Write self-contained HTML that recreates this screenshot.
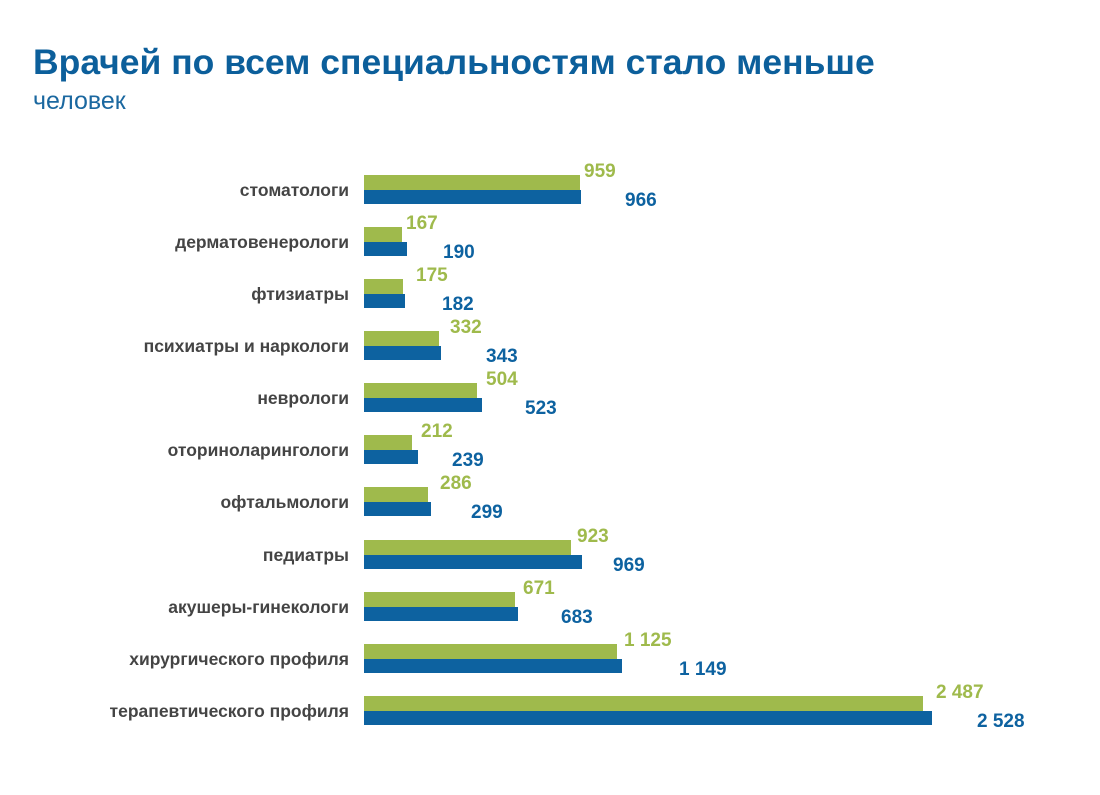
<!DOCTYPE html><html><head><meta charset="utf-8"><style>
body{margin:0;width:1100px;height:795px;background:#fff;position:relative;overflow:hidden;font-family:"Liberation Sans",Arial,sans-serif}
.t{position:absolute;left:33px;top:42px;font-size:35.5px;font-weight:bold;color:#0c5f9b;white-space:nowrap}
.s{position:absolute;left:33px;top:87px;font-size:25px;color:#1b68a0}
.c{position:absolute;right:751px;font-size:17.5px;font-weight:bold;color:#444;white-space:nowrap;line-height:18px}
.g,.b{position:absolute;left:364px;height:14.5px}
.g{background:#9fba4c}.b{background:#0d62a0}
.lg,.lb{position:absolute;font-size:19px;font-weight:bold;line-height:20px;white-space:nowrap;margin-top:2px}
.lg{color:#9fba4c}.lb{color:#0d62a0}
</style></head><body>
<div class="t">Врачей по всем специальностям стало меньше</div>
<div class="s">человек</div>

<div class="c" style="top:181px">стоматологи</div>
<div class="g" style="top:175px;width:216px"></div><div class="b" style="top:189.5px;width:217px"></div>
<div class="lg" style="left:584px;top:160px">959</div><div class="lb" style="left:625px;top:189px">966</div>

<div class="c" style="top:233px">дерматовенерологи</div>
<div class="g" style="top:227px;width:38px"></div><div class="b" style="top:241.5px;width:43px"></div>
<div class="lg" style="left:406px;top:212px">167</div><div class="lb" style="left:443px;top:241px">190</div>

<div class="c" style="top:285px">фтизиатры</div>
<div class="g" style="top:279px;width:39px"></div><div class="b" style="top:293.5px;width:41px"></div>
<div class="lg" style="left:416px;top:264px">175</div><div class="lb" style="left:442px;top:293px">182</div>

<div class="c" style="top:337px">психиатры и наркологи</div>
<div class="g" style="top:331px;width:75px"></div><div class="b" style="top:345.5px;width:77px"></div>
<div class="lg" style="left:450px;top:316px">332</div><div class="lb" style="left:486px;top:345px">343</div>

<div class="c" style="top:389px">неврологи</div>
<div class="g" style="top:383px;width:113px"></div><div class="b" style="top:397.5px;width:118px"></div>
<div class="lg" style="left:486px;top:368px">504</div><div class="lb" style="left:525px;top:397px">523</div>

<div class="c" style="top:441px">оториноларингологи</div>
<div class="g" style="top:435px;width:48px"></div><div class="b" style="top:449.5px;width:54px"></div>
<div class="lg" style="left:421px;top:420px">212</div><div class="lb" style="left:452px;top:449px">239</div>

<div class="c" style="top:493px">офтальмологи</div>
<div class="g" style="top:487px;width:64px"></div><div class="b" style="top:501.5px;width:67px"></div>
<div class="lg" style="left:440px;top:472px">286</div><div class="lb" style="left:471px;top:501px">299</div>

<div class="c" style="top:546px">педиатры</div>
<div class="g" style="top:540px;width:207px"></div><div class="b" style="top:554.5px;width:218px"></div>
<div class="lg" style="left:577px;top:525px">923</div><div class="lb" style="left:613px;top:554px">969</div>

<div class="c" style="top:598px">акушеры-гинекологи</div>
<div class="g" style="top:592px;width:151px"></div><div class="b" style="top:606.5px;width:154px"></div>
<div class="lg" style="left:523px;top:577px">671</div><div class="lb" style="left:561px;top:606px">683</div>

<div class="c" style="top:650px">хирургического профиля</div>
<div class="g" style="top:644px;width:253px"></div><div class="b" style="top:658.5px;width:258px"></div>
<div class="lg" style="left:624px;top:629px">1 125</div><div class="lb" style="left:679px;top:658px">1 149</div>

<div class="c" style="top:702px">терапевтического профиля</div>
<div class="g" style="top:696px;width:559px"></div><div class="b" style="top:710.5px;width:568px"></div>
<div class="lg" style="left:936px;top:681px">2 487</div><div class="lb" style="left:977px;top:710px">2 528</div>
</body></html>
